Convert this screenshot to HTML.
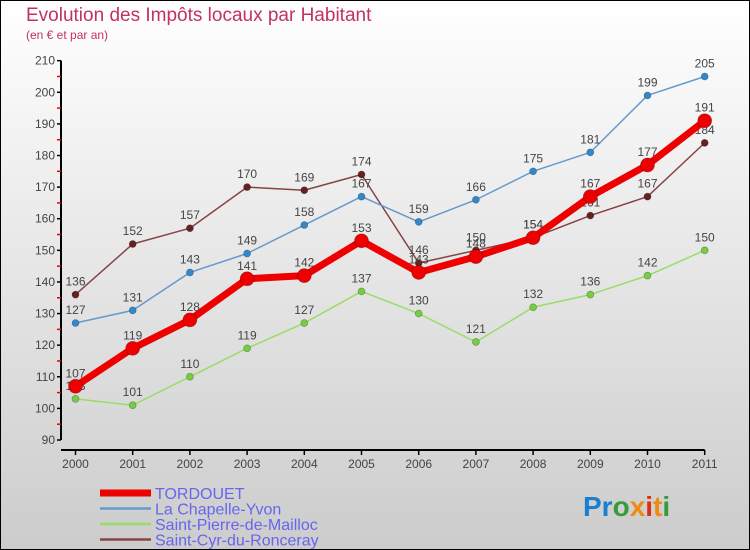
<!DOCTYPE html>
<html><head><meta charset="utf-8"><style>
body{margin:0}
#wrap{width:750px;height:550px;position:relative;box-sizing:border-box;border:1px solid #000;background:linear-gradient(#fff,#ccc);font-family:"Liberation Sans",sans-serif;overflow:hidden}
</style></head><body>
<div id="wrap">
<svg id="c" width="750" height="550" style="position:absolute;left:-1px;top:-1px">
<text x="26" y="21" font-size="19" fill="#c3325f">Evolution des Impôts locaux par Habitant</text>
<text x="26" y="39" font-size="12" fill="#c3325f">(en € et par an)</text>
<g id="axes"></g><g id="series"></g><g id="legend"></g>
<text x="583" y="516" font-size="28" font-weight="bold"><tspan fill="#1a7fd0">Pr</tspan><tspan fill="#3a9a3a">o</tspan><tspan fill="#f08a10">x</tspan><tspan fill="#e03010">i</tspan><tspan fill="#f08a10">t</tspan><tspan fill="#3a9a3a">i</tspan></text>
</svg>
</div>
<script>
const years=["2000","2001","2002","2003","2004","2005","2006","2007","2008","2009","2010","2011"];
const yTicks=[90,100,110,120,130,140,150,160,170,180,190,200,210];
const tordouet=[107,119,128,141,142,153,143,148,154,167,177,191];
const chapelle=[127,131,143,149,158,167,159,166,175,181,199,205];
const pierre=[103,101,110,119,127,137,130,121,132,136,142,150];
const cyr=[136,152,157,170,169,174,146,150,154,161,167,184];
const NS="http://www.w3.org/2000/svg";
function X(i){return 75.5+i*57.2;}
function Y(v){return 440-(v-90)*3.161;}
function mk(tag,a,p){const e=document.createElementNS(NS,tag);for(const k in a)e.setAttribute(k,a[k]);p.appendChild(e);return e;}
const ax=document.getElementById('axes');
let yl=mk('line',{x1:61,y1:Y(210),x2:61,y2:440,stroke:'#000','stroke-width':2},ax);


yTicks.forEach((v,k)=>{
 mk('line',{x1:57,y1:Y(v),x2:61,y2:Y(v),stroke:'#000','stroke-width':1.5},ax);
 if(k<yTicks.length-1) mk('line',{x1:57,y1:Y(v+5),x2:61,y2:Y(v+5),stroke:'#e00','stroke-width':1.5},ax);
 const t=mk('text',{x:55,y:Y(v)+4,'font-size':12,fill:'#444','text-anchor':'end'},ax);t.textContent=v;
 
 
});
let xl=mk('line',{x1:61,y1:450,x2:X(11),y2:450,stroke:'#000','stroke-width':2},ax);


years.forEach((y,i)=>{
 mk('line',{x1:X(i),y1:450,x2:X(i),y2:455,stroke:'#000','stroke-width':1.5},ax);
 const t=mk('text',{x:X(i),y:468,'font-size':12,fill:'#444','text-anchor':'middle'},ax);t.textContent=y;
 
 
});
const series=[
 {name:'Saint-Pierre-de-Mailloc',d:pierre,c:'#99dd66',dot:'#77cc44',w:1.5,r:3.5,key:'saint-pierre'},
 {name:'Saint-Cyr-du-Ronceray',d:cyr,c:'#884444',dot:'#662222',w:1.5,r:3.5,key:'saint-cyr'},
 {name:'La Chapelle-Yvon',d:chapelle,c:'#6699cc',dot:'#3388cc',w:1.5,r:3.5,key:'la-chapelle'},
 {name:'TORDOUET',d:tordouet,c:'#ee0000',dot:'#ee0000',w:7,r:7,key:'tordouet'}
];
const sg=document.getElementById('series');
series.forEach(s=>{
 const g=mk('g',{},sg);
 
 
 mk('polyline',{points:s.d.map((v,i)=>X(i)+','+Y(v)).join(' '),fill:'none',stroke:s.c,'stroke-width':s.w,'stroke-linejoin':'round'},g);
 s.d.forEach((v,i)=>{
  const p=mk('circle',{cx:X(i),cy:Y(v),r:s.r,fill:s.dot,stroke:'rgba(0,0,0,0.3)','stroke-width':0.7},g);
  
  
  const t=mk('text',{x:X(i),y:Y(v)-9,'font-size':12,fill:'#444','text-anchor':'middle'},g);t.textContent=v;
  
  
 });
});
const lg=document.getElementById('legend');
const leg=[series[3],series[2],series[0],series[1]];
leg.forEach((s,k)=>{
 const y=493+k*15.5;
 const g=mk('g',{},lg);
 
 
 mk('line',{x1:100,y1:y,x2:151,y2:y,stroke:s.c,'stroke-width':k==0?7:2.5},g);
 const t=mk('text',{x:155,y:y+6,'font-size':16,fill:'#6666ee'},g);t.textContent=s.name;
});
</script>
</body></html>
